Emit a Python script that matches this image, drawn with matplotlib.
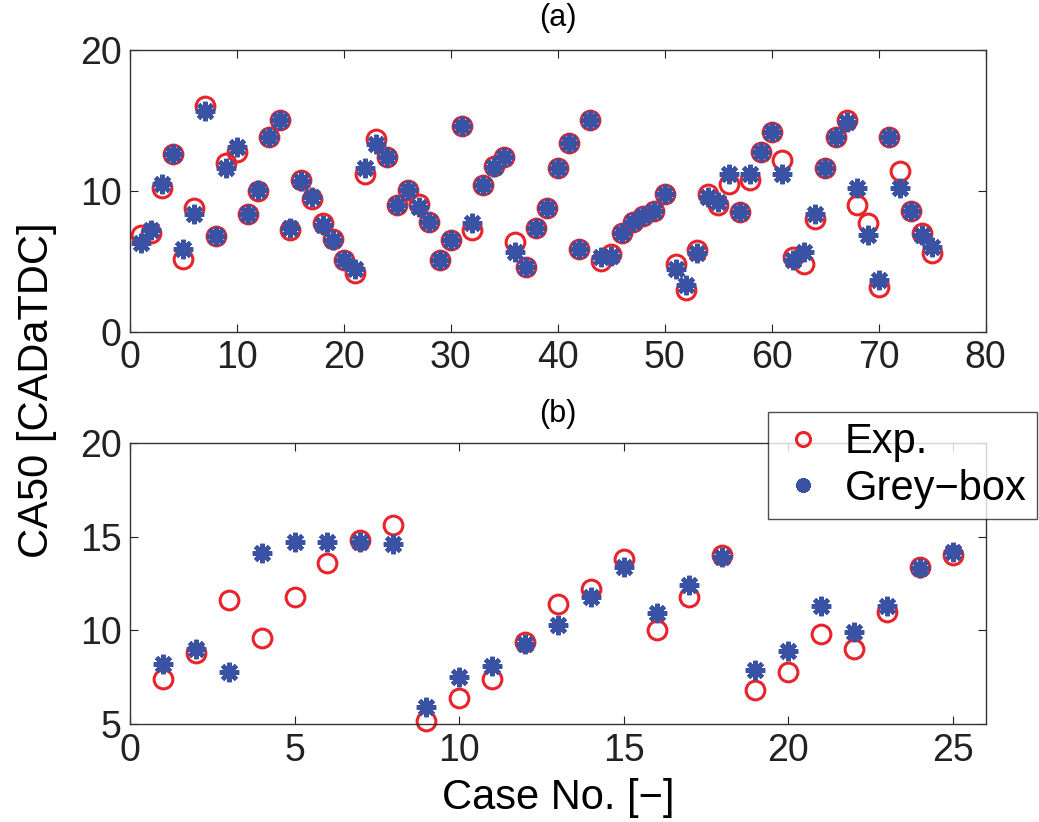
import numpy as np
import matplotlib
matplotlib.use('Agg')
import matplotlib.pyplot as plt

plt.rcParams['font.family'] = ['Liberation Sans', 'DejaVu Sans']

# (a) 75 cases
case_a = np.arange(1, 76)
exp_a = [6.9, 7.0, 10.2, 12.6, 5.2, 8.8, 16.0, 6.8, 12.0, 12.8,
         8.4, 10.0, 13.8, 15.0, 7.2, 10.8, 9.4, 7.7, 6.6, 5.1,
         4.2, 11.2, 13.7, 12.4, 9.0, 10.1, 9.1, 7.8, 5.1, 6.5,
         14.6, 7.2, 10.4, 11.8, 12.4, 6.4, 4.6, 7.4, 8.8, 11.6,
         13.4, 5.9, 15.0, 5.0, 5.5, 7.0, 7.8, 8.2, 8.6, 9.8,
         4.8, 3.0, 5.8, 9.8, 9.0, 10.5, 8.5, 10.8, 12.8, 14.2,
         12.2, 5.3, 4.8, 8.0, 11.6, 13.8, 15.0, 9.0, 7.7, 3.2,
         13.8, 11.4, 8.6, 7.0, 5.6]
gb_a = [6.3, 7.2, 10.5, 12.6, 5.9, 8.4, 15.7, 6.8, 11.6, 13.1,
        8.4, 10.1, 13.8, 15.0, 7.4, 10.7, 9.6, 7.6, 6.5, 5.1,
        4.5, 11.6, 13.3, 12.4, 9.0, 10.1, 8.9, 7.8, 5.1, 6.5,
        14.6, 7.7, 10.4, 11.7, 12.4, 5.7, 4.6, 7.4, 8.8, 11.6,
        13.4, 5.9, 15.0, 5.3, 5.4, 7.0, 7.8, 8.2, 8.6, 9.8,
        4.5, 3.3, 5.6, 9.6, 9.2, 11.2, 8.5, 11.2, 12.8, 14.2,
        11.2, 5.1, 5.7, 8.4, 11.6, 13.8, 14.9, 10.2, 6.9, 3.7,
        13.8, 10.2, 8.6, 6.9, 6.0]

# (b) 25 cases
case_b = np.arange(1, 26)
exp_b = [7.4, 8.8, 11.6, 9.6, 11.8, 13.6, 14.8, 15.6, 5.2, 6.4,
         7.4, 9.4, 11.4, 12.2, 13.8, 10.0, 11.8, 14.0, 6.8, 7.8,
         9.8, 9.0, 11.0, 13.4, 14.0]
gb_b = [8.2, 9.0, 7.8, 14.1, 14.7, 14.7, 14.7, 14.6, 5.9, 7.5,
        8.1, 9.3, 10.3, 11.8, 13.4, 10.9, 12.4, 13.9, 7.9, 8.9,
        11.3, 9.9, 11.3, 13.3, 14.2]

red = '#e8242b'
blue = '#3a52a3'
star = (8, 2, 0)

fig = plt.figure(figsize=(10.39, 8.22), dpi=100)
ax1 = fig.add_axes([0.1251, 0.5961, 0.8236, 0.3431])
ax2 = fig.add_axes([0.1251, 0.1189, 0.8236, 0.3426])

for ax, x, e, g in [(ax1, case_a, exp_a, gb_a), (ax2, case_b, exp_b, gb_b)]:
    ax.plot(x, e, 'o', ms=13.5, mfc='none', mec=red, mew=2.2, ls='none',
            clip_on=False, label='Exp.')
    ax.plot(x, g, marker=star, ms=14, mec=blue, mew=3.2, ls='none',
            clip_on=False, label='Grey\u2212box')
    ax.tick_params(direction='in', length=6, width=0.8, top=True, right=True,
                   labelsize=27, pad=6, colors='#222222')
    for s in ax.spines.values():
        s.set_linewidth(1.0)
        s.set_color('#333333')

title_font = dict(fontsize=22, family=['Liberation Sans Narrow', 'Liberation Sans'])

ax1.set_xlim(0, 80)
ax1.set_ylim(0, 20)
ax1.set_xticks(range(0, 81, 10))
ax1.set_yticks([0, 10, 20])
ax1.set_title('(a)', pad=17, **title_font)

ax2.set_xlim(0, 26)
ax2.set_ylim(5, 20)
ax2.set_xticks([0, 5, 10, 15, 20, 25])
ax2.set_yticks([5, 10, 15, 20])
ax2.set_title('(b)', pad=15, **title_font)
ax2.set_xlabel('Case No. [\u2212]', fontsize=30, labelpad=7)

fig.text(0.036, 0.525, 'CA50 [CADaTDC]', rotation=90, fontsize=30,
         ha='center', va='center')

h, l = ax2.get_legend_handles_labels()
leg = fig.legend(h, l, loc='upper left', bbox_to_anchor=(0.739, 0.4988),
                 fontsize=30, frameon=True, fancybox=False, borderaxespad=0,
                 handletextpad=0.4, handlelength=1.2, borderpad=0.25,
                 labelspacing=0.15, markerscale=0.75)
leg.get_frame().set_edgecolor('#222222')
leg.get_frame().set_linewidth(1.0)

fig.savefig('out.png', dpi=100)
